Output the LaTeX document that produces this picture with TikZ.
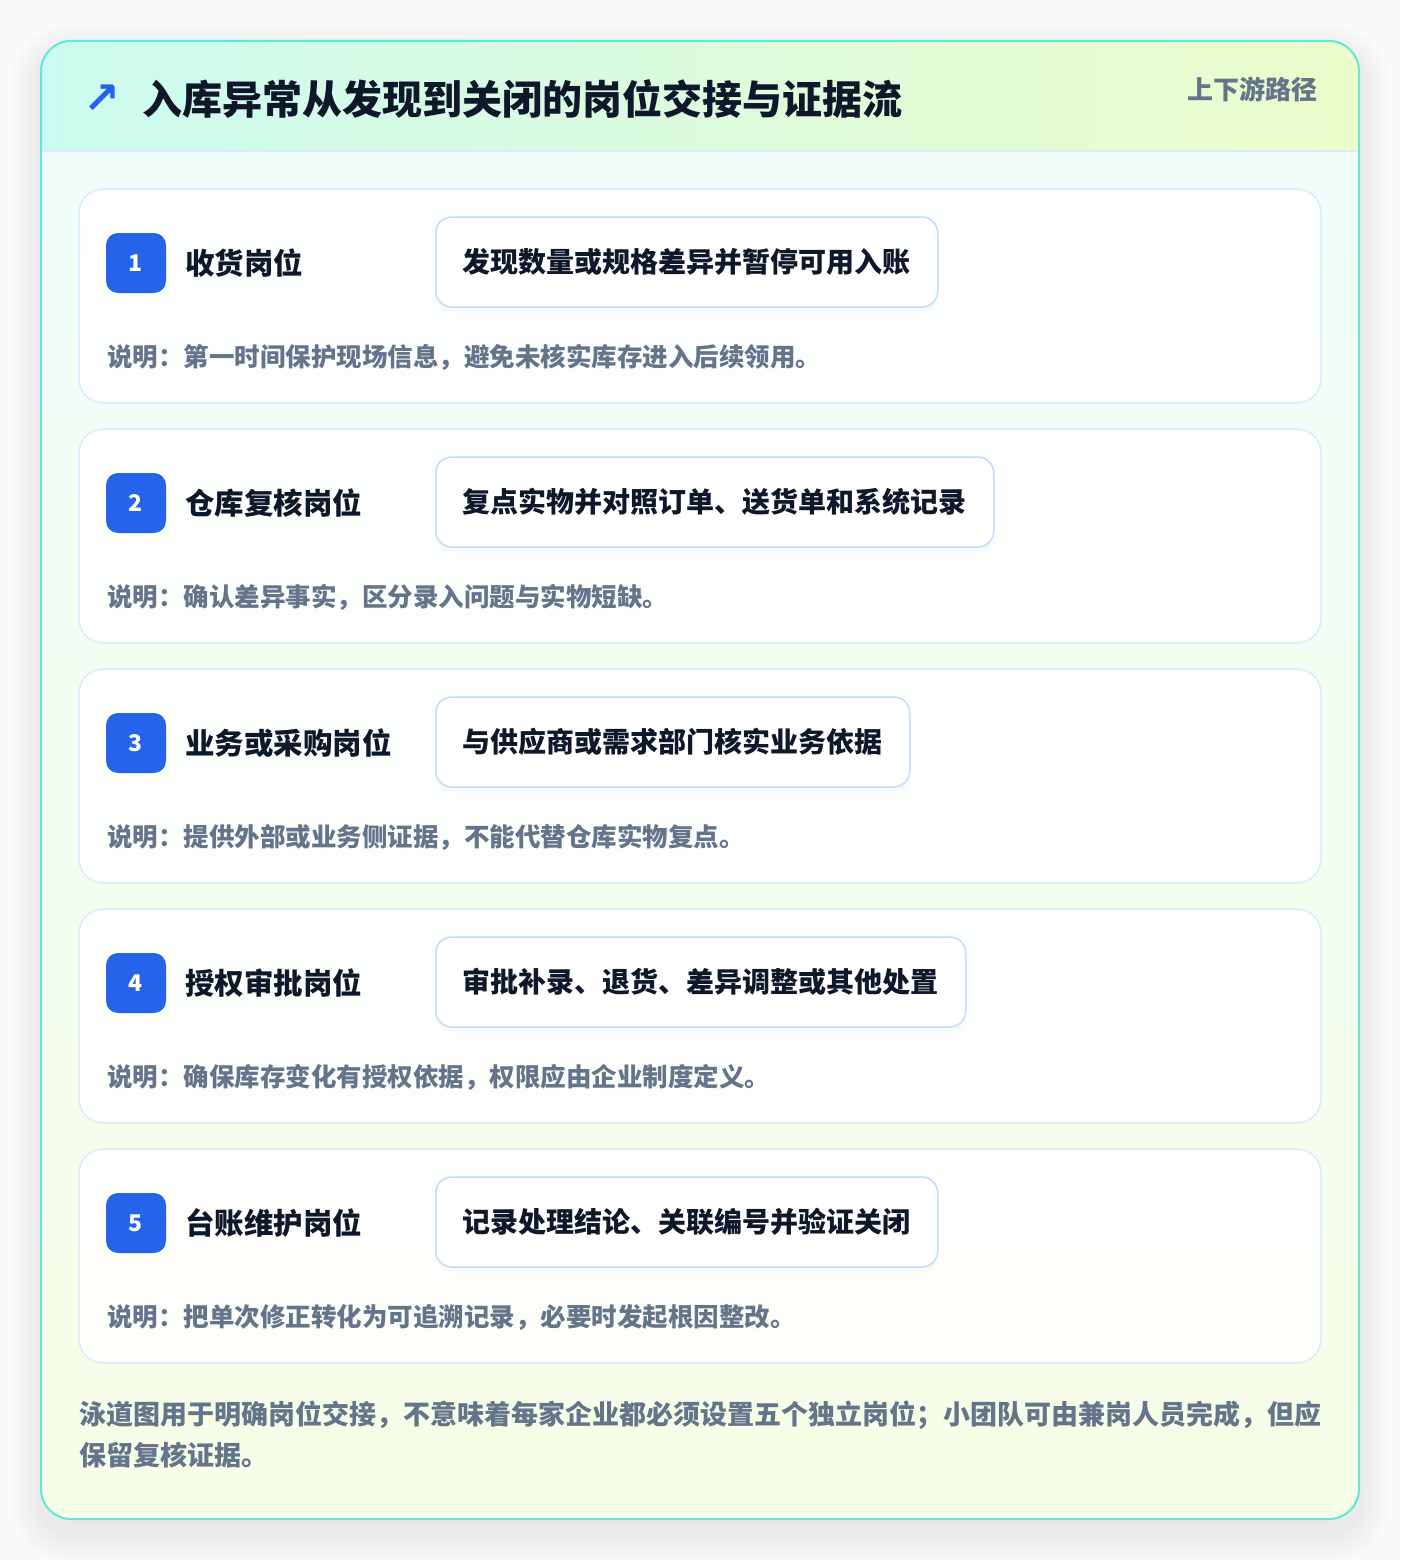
\documentclass[tikz,border=0pt]{standalone}
\usepackage{fontspec}
\setmainfont{Noto Sans CJK SC}
\newfontfamily\symfont{DejaVu Sans}
\usepackage{xcolor}
\usetikzlibrary{positioning,shadows}

\definecolor{ink}{HTML}{0F172A}
\definecolor{muted}{HTML}{64748B}
\definecolor{accent}{HTML}{2563EB}
\definecolor{rim}{HTML}{5EEAD4}
\definecolor{headl}{HTML}{CCFBEF}
\definecolor{headr}{HTML}{ECFCCB}
\definecolor{bodyt}{HTML}{F0FDF9}
\definecolor{bodyb}{HTML}{F7FEE7}
\definecolor{laneline}{HTML}{DBEAFE}
\definecolor{boxline}{HTML}{BFDBFE}
\definecolor{pagebg}{HTML}{FAFAFA}

\begin{document}
\begin{tikzpicture}[
  x=1pt, y=-1pt,
  lane/.style={draw=laneline,line width=1.5pt,rounded corners=24pt,fill=white,fill opacity=0.8,
    minimum width=1242pt,minimum height=214pt},
  badge/.style={fill=accent,rounded corners=12pt,minimum size=60pt,text=white,
    font=\fontsize{23}{26}\selectfont\bfseries},
  role/.style={anchor=west,inner sep=0pt,text=ink,font=\fontsize{29.5}{34}\selectfont\bfseries},
  act/.style={draw=boxline,line width=1.5pt,rounded corners=16pt,fill=white,anchor=west,
    minimum height=90pt,inner xsep=27pt,text=ink,font=\fontsize{28}{32}\selectfont\bfseries,
    drop shadow={shadow xshift=0pt,shadow yshift=-6pt,opacity=0.03}},
  note/.style={anchor=west,inner sep=0pt,text=muted,font=\fontsize{25.5}{30}\selectfont\bfseries}
]
\useasboundingbox (0,0) rectangle (1400,1560);

% --- page and card ---
\fill[pagebg] (0,0) rectangle (1400,1560);
\begin{scope}
  \clip (0,0) rectangle (1400,1560);
  \foreach \s in {2,4,...,32}
    \fill[black,opacity=0.0045,rounded corners={(30+\s)*1pt}]
      (41-\s,41-\s+14) rectangle (1359+\s,1519+\s+14);
\end{scope}

\begin{scope}
  \clip[rounded corners=30pt] (41,41) rectangle (1359,1519);
  \shade[top color=bodyt,bottom color=bodyb] (41,151) rectangle (1359,1519);
  \shade[left color=headl,right color=headr] (41,41) rectangle (1359,151);
\end{scope}
\draw[laneline,line width=1.5pt] (41,151) -- (1359,151);
\draw[rim,line width=2pt,rounded corners=30pt] (41,41) rectangle (1359,1519);

% --- header ---
\node[text=accent,font=\symfont\bfseries\fontsize{44}{44}\selectfont] (icon) at (102,99) {↗};
\node[anchor=west,inner sep=0pt,text=ink,font=\fontsize{40}{46}\selectfont\bfseries]
  (title) at (142,99) {入库异常从发现到关闭的岗位交接与证据流};
\node[anchor=east,inner sep=0pt,text=muted,font=\fontsize{26}{30}\selectfont\bfseries]
  (route) at (1318,89) {上下游路径};

% --- lanes ---
\node[lane] (lane1) at (700,296) {};
\node[badge] (num1) at (136,263) {1};
\node[role, right=19pt of num1] (role1) {收货岗位};
\node[act] (act1) at (435,262) {发现数量或规格差异并暂停可用入账};
\node[note] (note1) at (107,357) {说明：第一时间保护现场信息，避免未核实库存进入后续领用。};

\node[lane] (lane2) at (700,536) {};
\node[badge] (num2) at (136,503) {2};
\node[role, right=19pt of num2] (role2) {仓库复核岗位};
\node[act] (act2) at (435,502) {复点实物并对照订单、送货单和系统记录};
\node[note] (note2) at (107,597) {说明：确认差异事实，区分录入问题与实物短缺。};

\node[lane] (lane3) at (700,776) {};
\node[badge] (num3) at (136,743) {3};
\node[role, right=19pt of num3] (role3) {业务或采购岗位};
\node[act] (act3) at (435,742) {与供应商或需求部门核实业务依据};
\node[note] (note3) at (107,837) {说明：提供外部或业务侧证据，不能代替仓库实物复点。};

\node[lane] (lane4) at (700,1016) {};
\node[badge] (num4) at (136,983) {4};
\node[role, right=19pt of num4] (role4) {授权审批岗位};
\node[act] (act4) at (435,982) {审批补录、退货、差异调整或其他处置};
\node[note] (note4) at (107,1077) {说明：确保库存变化有授权依据，权限应由企业制度定义。};

\node[lane] (lane5) at (700,1256) {};
\node[badge] (num5) at (136,1223) {5};
\node[role, right=19pt of num5] (role5) {台账维护岗位};
\node[act] (act5) at (435,1222) {记录处理结论、关联编号并验证关闭};
\node[note] (note5) at (107,1317) {说明：把单次修正转化为可追溯记录，必要时发起根因整改。};

% --- footnote ---
\node[anchor=north west,align=left,inner sep=0pt,text=muted,font=\fontsize{27}{41}\selectfont\bfseries]
  (footnote) at (79,1401) {泳道图用于明确岗位交接，不意味着每家企业都必须设置五个独立岗位；小团队可由兼岗人员完成，但应\\保留复核证据。};
\end{tikzpicture}
\end{document}
